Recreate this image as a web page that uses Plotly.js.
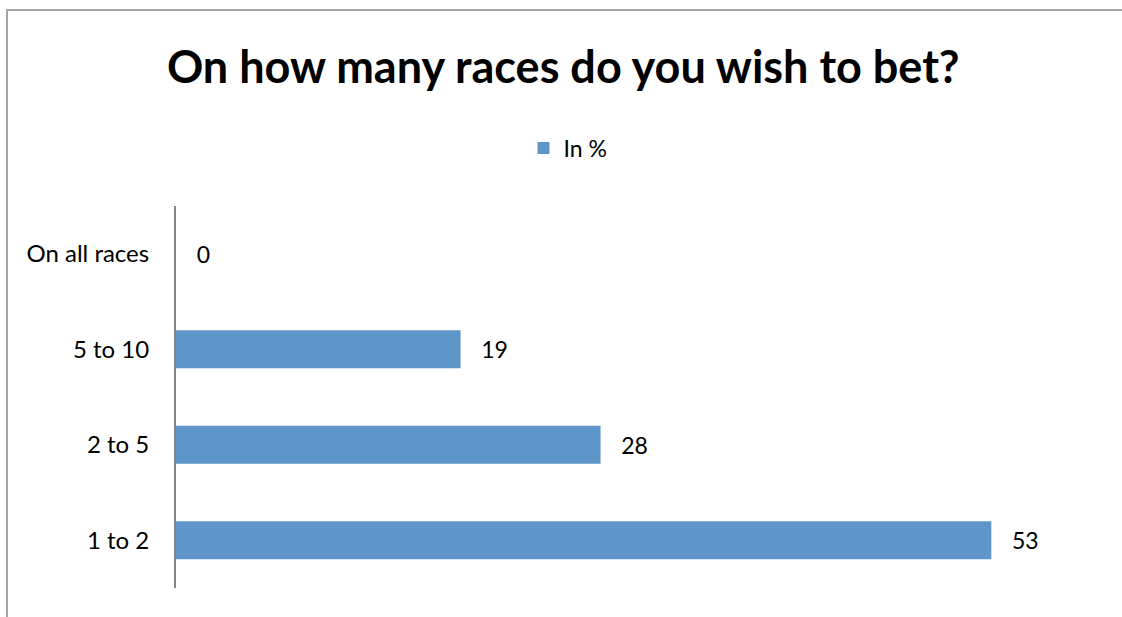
<!DOCTYPE html>
<html>
<head>
<meta charset="utf-8">
<script src="https://cdn.plot.ly/plotly-3.0.1.min.js"></script>
<style>
html,body{margin:0;padding:0;background:#fff;}
#wrap{position:relative;width:1122px;height:617px;overflow:hidden;}
#chart{position:absolute;left:0;top:0;width:1122px;height:617px;}
#frame{position:absolute;left:6px;top:9px;width:1200px;height:700px;border-left:2px solid #a5a5a5;border-top:2px solid #a5a5a5;pointer-events:none;}
</style>
</head>
<body>
<div id="wrap"><div id="chart"></div><div id="frame"></div></div>
<script>
const categories = ["1 to 2", "2 to 5", "5 to 10", "On all races"];
const values = [53, 27.6, 18.5, 0];
const seriesName = "In %";
const chartTitle = "On how many races do you wish to bet?";

const FONT = "Lato, 'Open Sans', sans-serif";

const trace = {
  type: "bar",
  orientation: "h",
  y: categories,
  x: values,
  name: seriesName,
  marker: {color: "#5f96c9", line: {width: 0}},
  texttemplate: "\u00a0\u00a0\u00a0%{x:.0f}",
  textposition: "outside",
  textfont: {family: FONT, size: 23, color: "#000"},
  cliponaxis: false,
  hoverinfo: "none"
};

const layout = {
  width: 1122,
  height: 617,
  margin: {l: 176, r: 23, t: 206, b: 29},
  paper_bgcolor: "#fff",
  plot_bgcolor: "#fff",
  font: {family: FONT, color: "#000"},
  title: {
    text: "<b>" + chartTitle + "</b>",
    font: {family: FONT, size: 45, color: "#000"},
    x: 0.502, xanchor: "center",
    y: 1 - 67/617, yanchor: "middle", yref: "container"
  },
  showlegend: true,
  legend: {
    orientation: "h",
    x: (568-176)/923, xanchor: "center",
    y: (588-148)/382, yanchor: "middle",
    font: {family: FONT, size: 23, color: "#000"},
    itemclick: false
  },
  bargap: 0.6,
  xaxis: {
    range: [0, 60],
    showgrid: false,
    zeroline: false,
    showline: false,
    showticklabels: false,
    ticks: "",
    fixedrange: true
  },
  yaxis: {
    type: "category",
    showgrid: false,
    zeroline: false,
    showline: true,
    linecolor: "#868686",
    linewidth: 2,
    ticks: "",
    ticklabelstandoff: 20,
    tickfont: {family: FONT, size: 24, color: "#000"},
    fixedrange: true
  }
};

Plotly.newPlot("chart", [trace], layout, {displayModeBar: false, staticPlot: true});
</script>
</body>
</html>
